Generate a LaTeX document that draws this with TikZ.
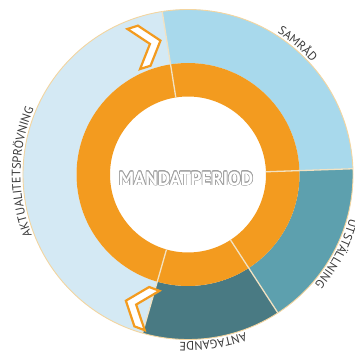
\documentclass[tikz,border=0pt]{standalone}
\usepackage{fontspec}
\setmainfont{PT Sans}
\usetikzlibrary{decorations.text}
\definecolor{aktc}{HTML}{D4E9F4}
\definecolor{samc}{HTML}{A8D9EC}
\definecolor{utsc}{HTML}{5DA0AE}
\definecolor{antc}{HTML}{497A83}
\definecolor{orc}{HTML}{F39B1F}
\definecolor{divc}{HTML}{F2E2C2}
\definecolor{rimc}{HTML}{F3D5A0}
\definecolor{labc}{HTML}{3A3A3A}
\definecolor{outc}{HTML}{A0A0A0}
\newcommand\labfont{\fontsize{12.2}{12.2}\selectfont}
\newcommand\mdfont{\fontsize{19}{19}\selectfont\bfseries}
\tikzset{
  divider/.style={draw=divc, line width=1.3},
  chev/.style={fill=white, draw=orc, line width=2.2, line join=miter},
  rim/.style={draw=rimc, line width=0.9},
}
\begin{document}
\begin{tikzpicture}[x=1pt,y=1pt]
\useasboundingbox (0,0) rectangle (354,356);
\begin{scope}[shift={(188,181.5)}]
  % outer ring sectors
  \fill[aktc] (99:165) arc[start angle=99,end angle=254,radius=165] -- (254:111.5) arc[start angle=254,end angle=99,radius=111.5] -- cycle;
  \fill[samc] (2:165) arc[start angle=2,end angle=99,radius=165] -- (99:111.5) arc[start angle=99,end angle=2,radius=111.5] -- cycle;
  \fill[utsc] (-57:165) arc[start angle=-57,end angle=2,radius=165] -- (2:111.5) arc[start angle=2,end angle=-57,radius=111.5] -- cycle;
  \fill[antc] (-106:165) arc[start angle=-106,end angle=-57,radius=165] -- (-57:111.5) arc[start angle=-57,end angle=-106,radius=111.5] -- cycle;
  % orange ring
  \fill[orc, even odd rule] (0,0) circle[radius=111.5] (0,0) circle[radius=78];
  % rim
  \draw[rim] (0,0) circle[radius=165];
  % dividers
  \foreach \a in {99,2,-57,-106} \draw[divider] (\a:78) -- (\a:165);
  % chevrons
  \begin{scope}[rotate=107.5, xshift=136, rotate=-90, xshift=14]
    \draw[chev] (0,0) -- (-17,21) -- (-28,21) -- (-11,0) -- (-28,-21) -- (-17,-21) -- cycle;
  \end{scope}
  \begin{scope}[rotate=249.5, xshift=140, rotate=-90, xshift=14]
    \draw[chev] (0,0) -- (-17,21) -- (-28,21) -- (-11,0) -- (-28,-21) -- (-17,-21) -- cycle;
  \end{scope}
  % ring labels
  \path[decorate, decoration={text along path, text={|\labfont|SAMRÅD}, text align=center, text color=labc}]
    (70:167.5) arc[start angle=70, end angle=30, radius=167.5];
  \path[decorate, decoration={text along path, text={|\labfont|UTSTÄLLNING}, text align=center, text color=labc}]
    (-2:167.5) arc[start angle=-2, end angle=-54, radius=167.5];
  \path[decorate, decoration={text along path, text={|\labfont|ANTAGANDE}, text align=center, text color=labc}]
    (-60:167.5) arc[start angle=-60, end angle=-103, radius=167.5];
  \path[decorate, decoration={text along path, text={|\labfont|AKTUALITETSPRÖVNING}, text align=center, text color=labc}]
    (230:167.5) arc[start angle=230, end angle=128, radius=167.5];
  % centre label
  \foreach \a in {0,22.5,...,337.5}
    \node[text=outc, font=\mdfont, inner sep=0] at ([shift={(\a:0.6)}]-2,-4) {MANDATPERIOD};
  \node[text=white, font=\mdfont, inner sep=0] (mandat) at (-2,-4) {MANDATPERIOD};
\end{scope}
\end{tikzpicture}
\end{document}
